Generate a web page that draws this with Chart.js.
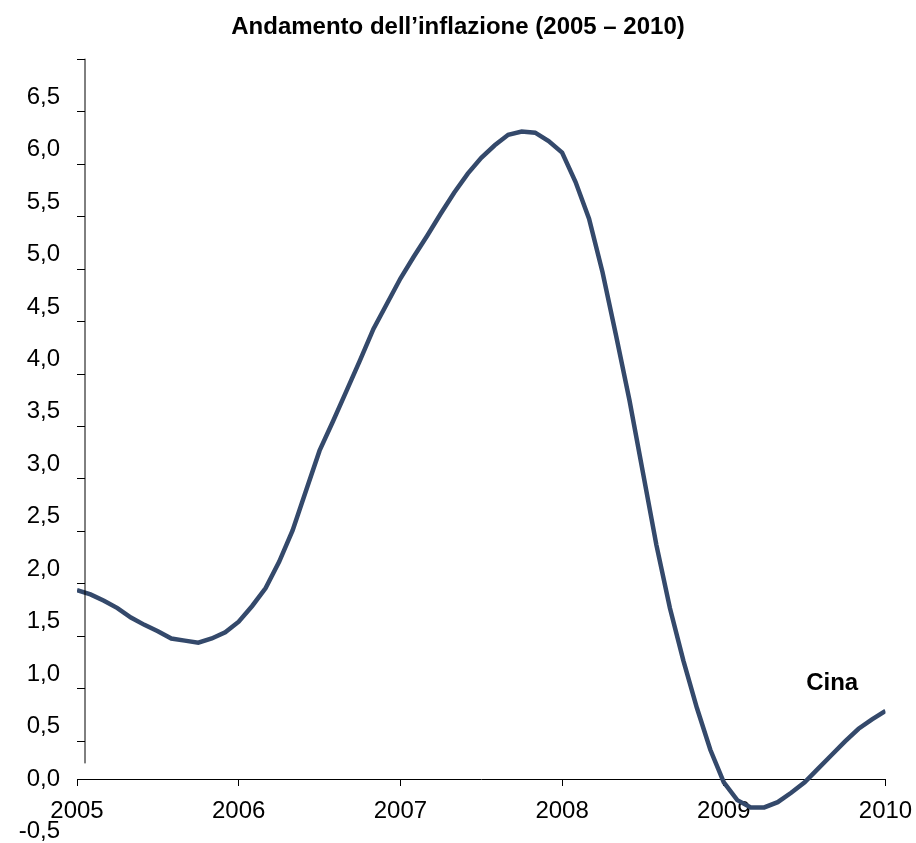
<!DOCTYPE html>
<html lang="it">
<head>
<meta charset="utf-8">
<title>Andamento dell'inflazione</title>
<script src="https://cdn.jsdelivr.net/npm/chart.js@4.4.1/dist/chart.umd.min.js"></script>
<style>
  html, body { margin: 0; padding: 0; background: #fff; }
  .chart-wrap { width: 916px; height: 843px; position: relative; }
</style>
</head>
<body>
<div class="chart-wrap"><canvas id="inflationChart"></canvas></div>
<script>
const years = [2005, 2006, 2007, 2008, 2009, 2010];
const yTicks = [-0.5, 0, 0.5, 1, 1.5, 2, 2.5, 3, 3.5, 4, 4.5, 5, 5.5, 6, 6.5];
const seriesName = "Cina";
// monthly values, Jan 2005 .. Jan 2010
const inflation = [
  1.80, 1.76, 1.70, 1.63, 1.54, 1.47, 1.41, 1.34, 1.32, 1.30, 1.34, 1.40,
  1.50, 1.65, 1.82, 2.07, 2.37, 2.75, 3.13, 3.41, 3.70, 3.99, 4.29, 4.53,
  4.77, 4.98, 5.18, 5.39, 5.59, 5.77, 5.92, 6.04, 6.14, 6.17, 6.16, 6.08,
  5.97, 5.69, 5.34, 4.83, 4.23, 3.61, 2.92, 2.23, 1.63, 1.13, 0.68, 0.28,
  -0.03, -0.20, -0.27, -0.27, -0.22, -0.13, -0.03, 0.10, 0.23, 0.36, 0.48, 0.57,
  0.65
];

const FONT = "'Liberation Sans', Arial, sans-serif";
const fmt = (v) => v.toFixed(1).replace(".", ",");

// y axis line + tick marks (drawn slightly off the label positions, like the original)
const axisDecor = {
  id: "axisDecor",
  afterDraw(chart) {
    const { ctx, chartArea, scales } = chart;
    const y = scales.y;
    const x0 = chartArea.left + 8;
    const shift = 0.135;
    ctx.save();
    ctx.strokeStyle = "#000";
    ctx.lineWidth = 1;
    ctx.beginPath();
    ctx.moveTo(x0, y.getPixelForValue(7 - shift));
    ctx.lineTo(x0, y.getPixelForValue(0.15));
    for (let v = 0.5; v <= 7; v += 0.5) {
      const py = Math.round(y.getPixelForValue(v - shift)) + 0.5;
      ctx.moveTo(x0, py);
      ctx.lineTo(chartArea.left, py);
    }
    ctx.stroke();

    ctx.fillStyle = "#000";
    ctx.font = "bold 24px " + FONT;
    ctx.textAlign = "center";
    ctx.textBaseline = "middle";
    ctx.fillText(seriesName, scales.x.getPixelForValue(2009.67), y.getPixelForValue(0.915));
    ctx.restore();
  },
};

new Chart(document.getElementById("inflationChart"), {
  type: "line",
  data: {
    datasets: [
      {
        label: seriesName,
        data: inflation.map((v, i) => ({ x: years[0] + i / 12, y: v })),
        borderColor: "#34496b",
        borderWidth: 4.5,
        pointRadius: 0,
        tension: 0,
        fill: false,
      },
    ],
  },
  options: {
    responsive: true,
    maintainAspectRatio: false,
    animation: false,
    layout: { padding: { left: 0, right: 0, top: 0, bottom: 11.4 } },
    plugins: {
      legend: { display: false },
      tooltip: { enabled: false },
      title: {
        display: true,
        text: "Andamento dell\u2019inflazione (2005 \u2013 2010)",
        color: "#000",
        font: { family: FONT, size: 24, weight: "bold" },
        padding: { top: 13, bottom: 55.2 },
      },
    },
    scales: {
      x: {
        type: "linear",
        position: { y: 0 },
        min: years[0],
        max: years[years.length - 1],
        afterBuildTicks(scale) {
          scale.ticks = years.map((v) => ({ value: v }));
        },
        afterFit(scale) {
          scale.paddingLeft = 0;
          scale.paddingRight = 30.5;
        },
        grid: {
          drawOnChartArea: false,
          drawTicks: true,
          tickLength: 6,
          color: "#000",
        },
        border: { display: true, color: "#000", width: 1 },
        ticks: {
          color: "#000",
          font: { family: FONT, size: 24 },
          padding: 12,
          maxRotation: 0,
          autoSkip: false,
          callback: (v) => String(v),
        },
      },
      y: {
        type: "linear",
        min: yTicks[0],
        max: yTicks[yTicks.length - 1],
        afterBuildTicks(scale) {
          scale.ticks = yTicks.map((v) => ({ value: v }));
        },
        afterFit(scale) {
          scale.width = 77;
          scale.paddingTop = 0;
          scale.paddingBottom = 0;
        },
        grid: { display: false, drawTicks: false },
        border: { display: false },
        ticks: {
          color: "#000",
          font: { family: FONT, size: 24 },
          padding: 17,
          autoSkip: false,
          callback: (v) => fmt(v),
        },
      },
    },
  },
  plugins: [axisDecor],
});
</script>
</body>
</html>
